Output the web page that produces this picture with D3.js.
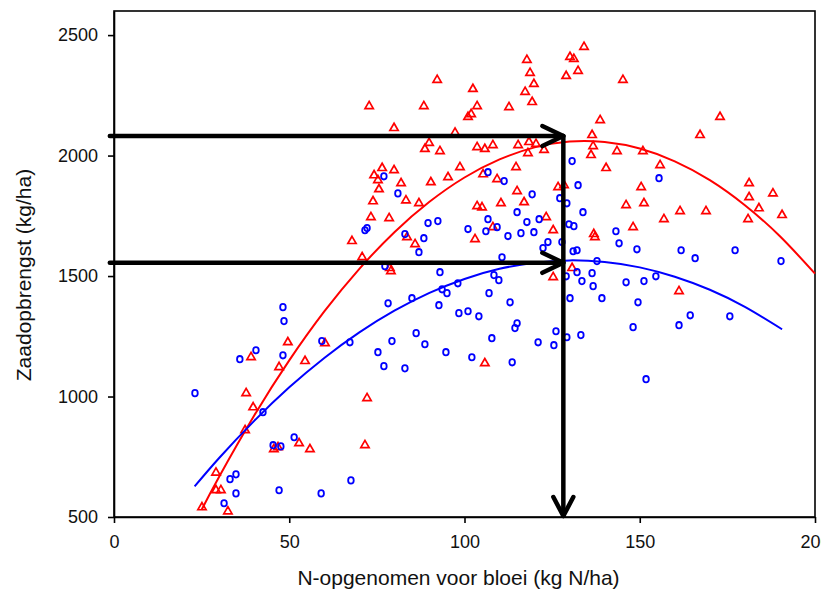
<!DOCTYPE html>
<html>
<head>
<meta charset="utf-8">
<script src="https://cdn.jsdelivr.net/npm/d3@7"></script>
<style>
  body { margin: 0; background: #fff; }
  svg { display: block; font-family: "Liberation Sans", Arial, sans-serif; }
  .axis text { font-size: 18px; fill: #111; }
</style>
</head>
<body>
<svg width="821" height="599"></svg>
<script>
// x = N opgenomen voor bloei (kg N/ha), y = zaadopbrengst (kg/ha)
const xTicks = [0, 50, 100, 150, 200];
const yTicks = [500, 1000, 1500, 2000, 2500];

const redX = [25.1, 29.1, 29.1, 30.5, 32.5, 37.7, 39.7, 39.1, 49.6, 47.1, 45.6, 46.8, 37.4, 52.8, 55.9,
  54.5, 60.2, 70.8, 78.7, 79.0, 72.2, 71.6, 105.8, 125.3, 130.7, 161.2, 73.9, 83.3, 87.0, 103.6,
  105.0, 73.3, 78.5, 67.9, 83.6, 85.9, 103.0, 92.2, 102.4, 72.8, 88.4, 103.6, 101.9, 101.0, 79.9,
  89.9, 88.7, 93.0, 103.6, 105.8, 108.1, 76.5, 74.2, 75.3, 79.9, 81.9, 75.6, 90.4, 95.3, 98.7,
  105.3, 97.3, 134.1, 117.8, 130.1, 131.2, 118.7, 132.4, 129.0, 119.8, 117.3, 145.2, 119.3, 112.7, 138.7,
  136.4, 136.7, 136.1, 115.3, 118.4, 120.4, 122.7, 118.1, 143.5, 150.9, 114.7, 140.4, 109.3, 115.0, 126.7,
  128.4, 150.4, 110.4, 117.0, 146.1, 151.2, 172.9, 167.2, 155.8, 181.2, 181.2, 188.0, 184.0, 190.6, 180.9,
  161.5, 168.9, 156.9, 148.1, 136.9, 137.2, 123.3, 108.1, 125.3];
const redY = [540, 684, 611, 611, 523, 1014, 955, 1163, 1225, 1122, 781, 789, 860, 806, 781,
  1147, 1221, 1578, 1533, 1520, 993, 798, 1138, 1495, 1533, 1437, 1810, 1814, 1802, 1790,
  1785, 1744, 1740, 1645, 1661, 1632, 1653, 2314, 2276, 2205, 2205, 2205, 2172, 2160, 2114,
  2052, 2027, 2018, 2035, 2027, 2043, 1948, 1918, 1898, 1939, 1885, 1860, 1889, 1910, 1952,
  1922, 2095, 2451, 2397, 2409, 2401, 2343, 2351, 2330, 2297, 2264, 2314, 2222, 2201, 2147,
  2085, 2039, 2002, 2043, 2056, 2048, 2023, 2010, 2018, 2018, 1952, 1948, 1902, 1852, 1869,
  1877, 1869, 1802, 1806, 1794, 1802, 2160, 2085, 1960, 1885, 1827, 1843, 1781, 1753, 1736,
  1769, 1769, 1736, 1703, 1674, 1661, 1744, 1703, 1690];

const blueX = [23.1, 35.9, 40.5, 48.2, 48.5, 48.2, 42.5, 45.4, 47.6, 51.4, 34.8, 33.1, 34.8, 31.4, 47.1,
  87.0, 77.3, 93.0, 98.1, 93.6, 95.0, 78.2, 85.0, 92.7, 98.4, 101.0, 104.1, 110.7, 108.4, 109.8,
  107.0, 113.0, 115.0, 114.4, 107.8, 126.1, 129.2, 133.2, 121.0, 125.5, 67.3, 79.3, 86.2, 88.7, 75.3,
  94.7, 102.1, 77.0, 83.0, 113.6, 67.6, 59.1, 59.3, 130.1, 132.1, 133.5, 136.4, 136.7, 131.0, 132.1,
  129.0, 139.2, 72.2, 71.6, 89.6, 92.4, 83.0, 88.4, 101.0, 106.1, 106.7, 77.0, 81.0, 106.7, 115.0,
  117.8, 121.3, 109.3, 112.4, 116.1, 119.8, 123.8, 122.4, 127.8, 129.2, 133.8, 129.8, 131.2, 143.2, 144.1,
  149.2, 137.8, 146.1, 151.2, 149.5, 148.1, 151.8, 161.8, 177.2, 165.8, 190.3, 154.6, 161.2, 164.4, 175.7,
  130.7, 111.3, 132.4, 119.3, 127.2, 155.5];
const blueY = [1014, 1155, 1192, 1371, 1313, 1171, 935, 798, 793, 831, 677, 657, 598, 557, 611,
  1599, 1541, 1516, 1470, 1445, 1429, 1387, 1408, 1379, 1346, 1354, 1333, 1578, 1504, 1483,
  1429, 1391, 1304, 1284, 1242, 1271, 1246, 1255, 1225, 1213, 1225, 1230, 1263, 1217, 1184,
  1184, 1163, 1126, 1117, 1142, 652, 598, 1230, 1408, 1516, 1479, 1512, 1458, 1603, 1607,
  1499, 1408, 1699, 1690, 1720, 1728, 1674, 1657, 1695, 1686, 1736, 1914, 1843, 1931, 1765,
  1724, 1736, 1703, 1666, 1678, 1682, 1641, 1616, 1641, 1802, 1765, 1715, 1707, 1686, 1636,
  1611, 1562, 1474, 1479, 1391, 1288, 1072, 1607, 1607, 1574, 1562, 1499, 1296, 1337, 1333,
  1977, 1894, 1877, 1839, 1823, 1906];

// trend curves
const redFitX = [25, 30, 40, 50, 60, 70, 80, 90, 100, 110, 120, 130, 140, 150, 160, 170, 180, 190, 200];
const redFitY = [530, 667, 921, 1150, 1353, 1530, 1682, 1808, 1909, 1984, 2034, 2058, 2056, 2029, 1976, 1898, 1794, 1665, 1510];
const blueFitX = [23, 30, 40, 50, 60, 70, 80, 90, 100, 110, 120, 130, 140, 150, 160, 170, 180, 190.6];
const blueFitY = [627, 745, 899, 1038, 1160, 1266, 1356, 1430, 1488, 1530, 1555, 1565, 1558, 1536, 1497, 1443, 1372, 1279];

// reading arrows: optimum N and the two yields
const arrowX = 128.2;
const arrowY = [2081, 1555];

const svg = d3.select("svg");
const margin = {top: 11, right: 6, bottom: 82, left: 114};
const width = +svg.attr("width") - margin.left - margin.right;
const height = +svg.attr("height") - margin.top - margin.bottom;

const x = d3.scaleLinear().domain([0, 200]).range([0, width]);
const y = d3.scaleLinear().domain([500, 2600]).range([height, 0]);

const g = svg.append("g")
    .attr("transform", "translate(" + margin.left + "," + margin.top + ")");

// frame
g.append("rect")
    .attr("width", width).attr("height", height)
    .attr("fill", "none").attr("stroke", "#000").attr("stroke-width", 1.6);

const xAxis = g.append("g")
    .attr("class", "axis")
    .attr("transform", "translate(0," + height + ")")
    .call(d3.axisBottom(x).tickValues(xTicks).tickFormat(d3.format("d"))
        .tickSize(6).tickPadding(12).tickSizeOuter(0));
const yAxis = g.append("g")
    .attr("class", "axis")
    .call(d3.axisLeft(y).tickValues(yTicks).tickFormat(d3.format("d"))
        .tickSize(6).tickPadding(10).tickSizeOuter(0));
[xAxis, yAxis].forEach(function (a) {
    a.select(".domain").attr("stroke", "#000").attr("stroke-width", 1.6);
    a.selectAll(".tick line").attr("stroke", "#000").attr("stroke-width", 1.6);
    a.selectAll("text").attr("font-family", null).attr("font-size", null);
});

// points
const red = redX.map(function (v, i) { return [v, redY[i]]; });
const blue = blueX.map(function (v, i) { return [v, blueY[i]]; });

g.selectAll(".tri")
    .data(red)
    .enter().append("path")
    .attr("class", "tri")
    .attr("d", d3.symbol(d3.symbolTriangle, 30))
    .attr("transform", function (d) { return "translate(" + x(d[0]) + "," + y(d[1]) + ")"; })
    .attr("fill", "none")
    .attr("stroke", "#ff0000")
    .attr("stroke-width", 1.7);

g.selectAll(".dot")
    .data(blue)
    .enter().append("ellipse")
    .attr("class", "dot")
    .attr("cx", function (d) { return x(d[0]); })
    .attr("cy", function (d) { return y(d[1]); })
    .attr("rx", 2.8).attr("ry", 3.2)
    .attr("fill", "none")
    .attr("stroke", "#0000ff")
    .attr("stroke-width", 1.8);

// curves
const line = d3.line()
    .x(function (d) { return x(d[0]); })
    .y(function (d) { return y(d[1]); })
    .curve(d3.curveNatural);

g.append("path")
    .datum(redFitX.map(function (v, i) { return [v, redFitY[i]]; }))
    .attr("d", line)
    .attr("fill", "none").attr("stroke", "#ff0000").attr("stroke-width", 2);
g.append("path")
    .datum(blueFitX.map(function (v, i) { return [v, blueFitY[i]]; }))
    .attr("d", line)
    .attr("fill", "none").attr("stroke", "#0000ff").attr("stroke-width", 2);

// arrows
const ax = x(arrowX);
const arrows = g.append("g")
    .attr("fill", "none").attr("stroke", "#000").attr("stroke-width", 4.5)
    .attr("stroke-linecap", "round").attr("stroke-linejoin", "round");

arrowY.forEach(function (v) {
    const ay = y(v);
    arrows.append("line").attr("x1", x(-1.2)).attr("y1", ay).attr("x2", ax).attr("y2", ay);
    arrows.append("path").attr("d", "M" + (ax - 21) + "," + (ay - 10) + "L" + ax + "," + ay + "L" + (ax - 21) + "," + (ay + 10));
});
arrows.append("line").attr("x1", ax).attr("y1", y(arrowY[0])).attr("x2", ax).attr("y2", height - 1);
arrows.append("path").attr("d", "M" + (ax - 10) + "," + (height - 20) + "L" + ax + "," + (height - 1) + "L" + (ax + 10) + "," + (height - 20));

// axis titles
svg.append("text")
    .attr("x", margin.left + width / 2 - 6)
    .attr("y", 585)
    .attr("text-anchor", "middle")
    .attr("font-size", 21)
    .attr("fill", "#111")
    .text("N-opgenomen voor bloei (kg N/ha)");

svg.append("text")
    .attr("transform", "translate(31," + 275 + ") rotate(-90)")
    .attr("text-anchor", "middle")
    .attr("font-size", 21)
    .attr("fill", "#111")
    .text("Zaadopbrengst (kg/ha)");
</script>
</body>
</html>
